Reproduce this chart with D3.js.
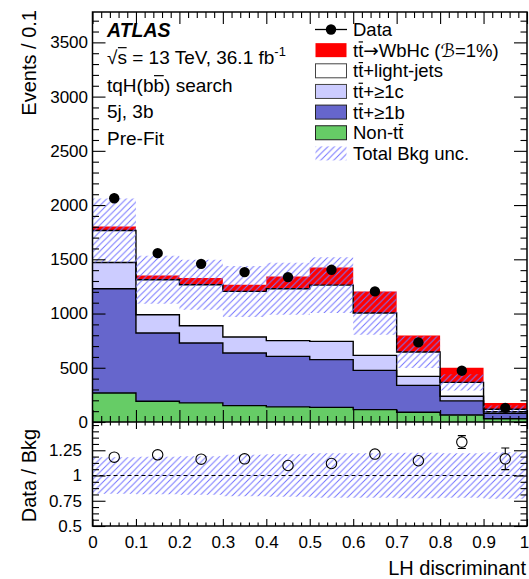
<!DOCTYPE html>
<html>
<head>
<meta charset="utf-8">
<script src="https://cdn.jsdelivr.net/npm/d3@7"></script>
<style>
  html, body { margin: 0; padding: 0; background: #fff; }
  svg text { font-family: "Liberation Sans", Arial, Helvetica, sans-serif; fill: #000; }
</style>
</head>
<body>
<svg id="chart" width="529" height="579"></svg>
<script>
// LH discriminant bins (edges) and per-bin yields, bottom of the stack first
const binEdges = [0, 0.1, 0.2, 0.3, 0.4, 0.5, 0.6, 0.7, 0.8, 0.9, 1.0];
const nonTT   = [268, 191, 176, 151, 139, 135, 114, 90, 65, 30];
const ttB     = [960, 629, 552, 485, 466, 440, 362, 248, 130, 50];
const ttC     = [242, 169, 160, 148, 145, 168, 138, 83, 42, 15];
const ttLight = [295, 322, 377, 420, 478, 519, 391, 224, 128, 23];
const signal  = [37, 40, 62, 61, 114, 163, 199, 153, 135, 58];
const dataVal = [2063, 1557, 1458, 1382, 1336, 1403, 1204, 734, 473, 130];
const dataErr = [45, 39, 38, 37, 37, 37, 35, 27, 22, 11];
const bkgUnc  = [295, 221, 230, 235, 240, 258, 200, 146, 75, 33];

// Data / background ratio panel
const ratioVal = [1.182, 1.205, 1.162, 1.165, 1.099, 1.119, 1.212, 1.146, 1.331, 1.165];
const ratioErr = [0.025, 0.027, 0.028, 0.03, 0.03, 0.03, 0.036, 0.045, 0.064, 0.107];
const ratioUnc = [0.18, 0.185, 0.19, 0.205, 0.21, 0.22, 0.22, 0.225, 0.22, 0.23];

// Axis tick values
const xTicks = [0, 0.1, 0.2, 0.3, 0.4, 0.5, 0.6, 0.7, 0.8, 0.9, 1];
const yTicks = [0, 500, 1000, 1500, 2000, 2500, 3000, 3500];
const rTicks = [0.5, 0.75, 1, 1.25];

const seriesKeys = ["nonTT", "ttB", "ttC", "ttLight", "signal"];
const seriesColor = { nonTT: "#66cc66", ttB: "#6666cc", ttC: "#ccccff", ttLight: "#ffffff", signal: "#ff0000" };

const svg = d3.select("#chart");
const FONT = "'Liberation Sans', Arial, Helvetica, sans-serif";

// Layout
const L = 92.5, R = 527, T = 12, MID = 422, B = 526;
const x = d3.scaleLinear().domain([0, 1]).range([L, R]);
const y = d3.scaleLinear().domain([0, 3780]).range([MID, T]);
const yr = d3.scaleLinear().domain([0.5, 1.53]).range([B, MID]);

// Hatch pattern for the background uncertainty
const defs = svg.append("defs");
const pat = defs.append("pattern").attr("id", "hatch")
  .attr("patternUnits", "userSpaceOnUse").attr("width", 6.5).attr("height", 6.5);
pat.append("path").attr("d", "M-1,1 L1,-1 M0,6.5 L6.5,0 M5.5,7.5 L7.5,5.5")
  .attr("stroke", "#7474ff").attr("stroke-width", 1);

// Clip regions for each pad
defs.append("clipPath").attr("id", "clipMain").append("rect")
  .attr("x", L).attr("y", T).attr("width", R - L).attr("height", MID - T);
defs.append("clipPath").attr("id", "clipRatio").append("rect")
  .attr("x", L).attr("y", MID).attr("width", R - L).attr("height", B - MID);

// ---- stacked histogram ----
const rows = binEdges.slice(0, -1).map((e, i) => ({
  lo: e, nonTT: nonTT[i], ttB: ttB[i], ttC: ttC[i], ttLight: ttLight[i], signal: signal[i]
}));
const stacked = d3.stack().keys(seriesKeys)(rows);

function stepPoints(layer) {
  const pts = layer.map((d, i) => ({ x: binEdges[i], y0: d[0], y1: d[1] }));
  const last = layer[layer.length - 1];
  pts.push({ x: binEdges[binEdges.length - 1], y0: last[0], y1: last[1] });
  return pts;
}

const main = svg.append("g").attr("clip-path", "url(#clipMain)");
const area = d3.area().curve(d3.curveStepAfter)
  .x(d => x(d.x)).y0(d => y(d.y0)).y1(d => y(d.y1));
const topLine = d3.line().curve(d3.curveStepAfter)
  .x(d => x(d.x)).y(d => y(d.y1));

stacked.forEach(layer => {
  main.append("path").attr("d", area(stepPoints(layer)))
    .attr("fill", seriesColor[layer.key]).attr("stroke", "none");
});
stacked.forEach(layer => {
  if (layer.key === "signal") return;
  main.append("path").attr("d", topLine(stepPoints(layer)))
    .attr("fill", "none").attr("stroke", "#000").attr("stroke-width", 1.4);
});

// Total background uncertainty band
const bkgTot = stacked[3].map(d => d[1]);
const bandPts = binEdges.map((e, i) => {
  const j = Math.min(i, bkgTot.length - 1);
  return { x: e, y0: bkgTot[j] - bkgUnc[j], y1: bkgTot[j] + bkgUnc[j] };
});
main.append("path").attr("d", area(bandPts)).attr("fill", "url(#hatch)");

// Data points
const centers = binEdges.slice(0, -1).map((e, i) => (e + binEdges[i + 1]) / 2);
main.selectAll(".derr").data(dataVal).join("line")
  .attr("x1", (d, i) => x(centers[i])).attr("x2", (d, i) => x(centers[i]))
  .attr("y1", (d, i) => y(d - dataErr[i])).attr("y2", (d, i) => y(d + dataErr[i]))
  .attr("stroke", "#000").attr("stroke-width", 1.2);
main.selectAll(".dot").data(dataVal).join("circle")
  .attr("cx", (d, i) => x(centers[i])).attr("cy", d => y(d)).attr("r", 5.2)
  .attr("fill", "#000");

// ---- ratio panel ----
const ratio = svg.append("g").attr("clip-path", "url(#clipRatio)");
const rArea = d3.area().curve(d3.curveStepAfter)
  .x(d => x(d.x)).y0(d => yr(d.y0)).y1(d => yr(d.y1));
const rBand = binEdges.map((e, i) => {
  const j = Math.min(i, ratioUnc.length - 1);
  return { x: e, y0: 1 - ratioUnc[j], y1: 1 + ratioUnc[j] };
});
ratio.append("path").attr("d", rArea(rBand)).attr("fill", "url(#hatch)");
ratio.append("line").attr("x1", L).attr("x2", R).attr("y1", yr(1)).attr("y2", yr(1))
  .attr("stroke", "#000").attr("stroke-width", 1.1).attr("stroke-dasharray", "4,3");

ratioVal.forEach((v, i) => {
  const cx = x(centers[i]), cy = yr(v);
  const lo = yr(v - ratioErr[i]), hi = yr(v + ratioErr[i]);
  const r = 5.2;
  if (hi < cy - r) {
    ratio.append("line").attr("x1", cx).attr("x2", cx).attr("y1", hi).attr("y2", cy - r)
      .attr("stroke", "#000").attr("stroke-width", 1.1);
    ratio.append("line").attr("x1", cx - 4).attr("x2", cx + 4).attr("y1", hi).attr("y2", hi)
      .attr("stroke", "#000").attr("stroke-width", 1.1);
    ratio.append("line").attr("x1", cx).attr("x2", cx).attr("y1", cy + r).attr("y2", lo)
      .attr("stroke", "#000").attr("stroke-width", 1.1);
    ratio.append("line").attr("x1", cx - 4).attr("x2", cx + 4).attr("y1", lo).attr("y2", lo)
      .attr("stroke", "#000").attr("stroke-width", 1.1);
  }
  ratio.append("circle").attr("cx", cx).attr("cy", cy).attr("r", r)
    .attr("fill", "none").attr("stroke", "#000").attr("stroke-width", 1.1);
});

// ---- axes ----
function styleAxis(g, fs) {
  g.select(".domain").remove();
  g.selectAll(".tick line").attr("stroke", "#000").attr("stroke-width", 1.1);
  g.selectAll("text").style("font-family", FONT).style("font-size", fs + "px").attr("fill", "#000");
}
const range = (a, b, s) => d3.range(Math.round((b - a) / s) + 1).map(k => +(a + k * s).toFixed(4));
const xMinor = range(0, 1, 0.02).filter(v => !xTicks.some(t => Math.abs(t - v) < 1e-6));
const yMinor = range(0, 3700, 100).filter(v => v % 500 !== 0);
const rMinor = range(0.5, 1.5, 0.0625).filter(v => !rTicks.includes(v));

// main pad
svg.append("g").attr("transform", `translate(${L},0)`)
  .call(d3.axisLeft(y).tickValues(yTicks).tickFormat(d3.format("d")).tickSize(-13).tickPadding(4.5))
  .call(g => styleAxis(g, 17));
svg.append("g").attr("transform", `translate(${L},0)`)
  .call(d3.axisLeft(y).tickValues(yMinor).tickFormat("").tickSize(-6.5)).call(g => styleAxis(g, 17));
svg.append("g").attr("transform", `translate(${R},0)`)
  .call(d3.axisRight(y).tickValues(yTicks).tickFormat("").tickSize(-13)).call(g => styleAxis(g, 17));
svg.append("g").attr("transform", `translate(${R},0)`)
  .call(d3.axisRight(y).tickValues(yMinor).tickFormat("").tickSize(-6.5)).call(g => styleAxis(g, 17));
svg.append("g").attr("transform", `translate(0,${T})`)
  .call(d3.axisTop(x).tickValues(xTicks).tickFormat("").tickSize(-12)).call(g => styleAxis(g, 17));
svg.append("g").attr("transform", `translate(0,${T})`)
  .call(d3.axisTop(x).tickValues(xMinor).tickFormat("").tickSize(-6)).call(g => styleAxis(g, 17));
svg.append("g").attr("transform", `translate(0,${MID})`)
  .call(d3.axisBottom(x).tickValues(xTicks).tickFormat("").tickSize(-12)).call(g => styleAxis(g, 17));
svg.append("g").attr("transform", `translate(0,${MID})`)
  .call(d3.axisBottom(x).tickValues(xMinor).tickFormat("").tickSize(-6)).call(g => styleAxis(g, 17));

// ratio pad
svg.append("g").attr("transform", `translate(${L},0)`)
  .call(d3.axisLeft(yr).tickValues(rTicks).tickFormat(d3.format("")).tickSize(-13).tickPadding(10.5))
  .call(g => styleAxis(g, 17));
svg.append("g").attr("transform", `translate(${L},0)`)
  .call(d3.axisLeft(yr).tickValues(rMinor).tickFormat("").tickSize(-6.5)).call(g => styleAxis(g, 17));
svg.append("g").attr("transform", `translate(${R},0)`)
  .call(d3.axisRight(yr).tickValues(rTicks).tickFormat("").tickSize(-13)).call(g => styleAxis(g, 17));
svg.append("g").attr("transform", `translate(${R},0)`)
  .call(d3.axisRight(yr).tickValues(rMinor).tickFormat("").tickSize(-6.5)).call(g => styleAxis(g, 17));
svg.append("g").attr("transform", `translate(0,${B})`)
  .call(d3.axisBottom(x).tickValues(xTicks).tickFormat(d3.format("")).tickSize(-7).tickPadding(10))
  .call(g => styleAxis(g, 17))
  .call(g => g.selectAll(".tick text").filter(d => d === 1).attr("dx", -3));
svg.append("g").attr("transform", `translate(0,${B})`)
  .call(d3.axisBottom(x).tickValues(xMinor).tickFormat("").tickSize(-3.5)).call(g => styleAxis(g, 17));
svg.append("g").attr("transform", `translate(0,${MID})`)
  .call(d3.axisTop(x).tickValues(xTicks).tickFormat("").tickSize(-7)).call(g => styleAxis(g, 17));
svg.append("g").attr("transform", `translate(0,${MID})`)
  .call(d3.axisTop(x).tickValues(xMinor).tickFormat("").tickSize(-3.5)).call(g => styleAxis(g, 17));

// frames
svg.append("rect").attr("x", L).attr("y", T).attr("width", R - L).attr("height", B - T)
  .attr("fill", "none").attr("stroke", "#000").attr("stroke-width", 1.5);
svg.append("line").attr("x1", L).attr("x2", R).attr("y1", MID).attr("y2", MID)
  .attr("stroke", "#000").attr("stroke-width", 1.5);

// axis titles
svg.append("text").attr("transform", "translate(36,10) rotate(-90)")
  .attr("text-anchor", "end").style("font-size", "20px").text("Events / 0.1");
svg.append("text").attr("transform", `translate(36,${yr(1)}) rotate(-90)`)
  .attr("text-anchor", "middle").style("font-size", "20px").text("Data / Bkg");
svg.append("text").attr("x", 526).attr("y", 575)
  .attr("text-anchor", "end").style("font-size", "20px").text("LH discriminant");

// ---- rich text helper: segments with optional overline bar / superscript ----
function richText(parent, px, py, segs, fs, weight, italic) {
  const t = parent.append("text").attr("x", px).attr("y", py)
    .style("font-size", fs + "px");
  if (weight) t.style("font-weight", weight);
  if (italic) t.style("font-style", "italic");
  let idx = 0;
  const bars = [];
  segs.forEach(s => {
    const ts = t.append("tspan").text(s.t);
    if (s.sup) ts.attr("dy", -0.42 * fs).style("font-size", (0.68 * fs) + "px");
    if (s.font) ts.style("font-family", s.font);
    if (s.bar) bars.push({ start: idx, len: s.t.length, lift: s.lift || 0.8 });
    idx += s.t.length;
  });
  const node = t.node();
  bars.forEach(b => {
    const x0 = node.getStartPositionOfChar(b.start).x;
    const x1 = node.getEndPositionOfChar(b.start + b.len - 1).x;
    parent.append("line").attr("x1", x0 + 0.5).attr("x2", x1 - 0.3)
      .attr("y1", py - b.lift * fs).attr("y2", py - b.lift * fs)
      .attr("stroke", "#000").attr("stroke-width", 1.2);
  });
  return t;
}

// ATLAS label block
const lab = svg.append("g");
richText(lab, 107, 37, [{ t: "ATLAS" }], 19.5, "bold", true);
richText(lab, 107, 64, [{ t: "√" }, { t: "s", bar: true, lift: 0.86 }, { t: " = 13 TeV, 36.1 fb" },
  { t: "-1", sup: true }], 19);
richText(lab, 107, 92, [{ t: "tqH(b" }, { t: "b", bar: true, lift: 0.86 }, { t: ") search" }], 19);
richText(lab, 107, 118, [{ t: "5j, 3b" }], 19);
richText(lab, 107, 145, [{ t: "Pre-Fit" }], 19);

// ---- legend ----
const ARROW_FONT = "'DejaVu Sans', sans-serif";
const legendItems = [
  { kind: "data", segs: [{ t: "Data" }] },
  { kind: "box", fill: "#ff0000", stroke: "none",
    segs: [{ t: "t" }, { t: "t", bar: true }, { t: "→", font: ARROW_FONT }, { t: "WbHc (" },
      { t: "ℬ", font: ARROW_FONT }, { t: "=1%)" }] },
  { kind: "box", fill: "#ffffff", stroke: "#444", segs: [{ t: "t" }, { t: "t", bar: true }, { t: "+light-jets" }] },
  { kind: "box", fill: "#ccccff", stroke: "#444", segs: [{ t: "t" }, { t: "t", bar: true }, { t: "+≥1c" }] },
  { kind: "box", fill: "#6666cc", stroke: "#222", segs: [{ t: "t" }, { t: "t", bar: true }, { t: "+≥1b" }] },
  { kind: "box", fill: "#66cc66", stroke: "#222", segs: [{ t: "Non-t" }, { t: "t", bar: true }] },
  { kind: "hatch", segs: [{ t: "Total Bkg unc." }] }
];
const leg = svg.append("g");
legendItems.forEach((it, i) => {
  const cy = 29.5 + i * 20.65;
  if (it.kind === "data") {
    leg.append("line").attr("x1", 315).attr("x2", 347).attr("y1", cy).attr("y2", cy)
      .attr("stroke", "#000").attr("stroke-width", 1.3);
    leg.append("circle").attr("cx", 331).attr("cy", cy).attr("r", 5.2).attr("fill", "#000");
  } else if (it.kind === "box") {
    leg.append("rect").attr("x", 315.5).attr("y", cy - 7).attr("width", 31).attr("height", 14)
      .attr("fill", it.fill).attr("stroke", it.stroke).attr("stroke-width", 1);
  } else {
    leg.append("rect").attr("x", 315.5).attr("y", cy - 7).attr("width", 31).attr("height", 14)
      .attr("fill", "url(#hatch)");
  }
  richText(leg, 353, cy + 6.6, it.segs, 18.5);
});
</script>
</body>
</html>
